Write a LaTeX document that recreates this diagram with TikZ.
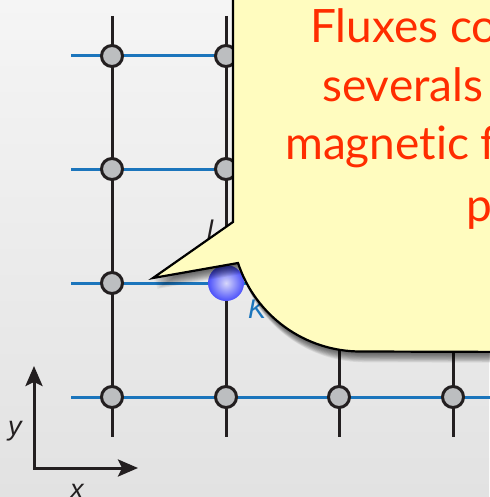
\documentclass[tikz,border=0pt]{standalone}
\usepackage{fontspec}
\setmainfont{Lato}[Ligatures={NoCommon,NoRare}]
\newfontfamily\labfont{Liberation Sans}
\usetikzlibrary{arrows.meta}
\definecolor{bgtop}{RGB}{245,245,245}
\definecolor{bgbot}{RGB}{226,226,226}
\definecolor{latblue}{RGB}{27,117,188}
\definecolor{inkblack}{RGB}{35,31,32}
\definecolor{sitegray}{RGB}{188,190,192}
\definecolor{calloutfill}{RGB}{255,252,191}
\definecolor{fluxred}{RGB}{255,45,0}
\definecolor{ballblue}{RGB}{75,80,250}
\definecolor{ballhi}{RGB}{215,215,250}
\def\calloutpath{(233,-20) -- (233,222) -- (153,278) -- (238,263)
  arc[start angle=161.7, end angle=90, radius=129] -- (530,352) -- (530,-20) -- cycle}
\begin{document}
\begin{tikzpicture}[x=1pt,y=-1pt,
  vbond/.style={line width=3pt, draw=inkblack},
  hbond/.style={line width=3pt, draw=latblue},
  site/.style={circle, draw=inkblack, fill=sitegray, line width=3pt, minimum size=21pt, inner sep=0pt},
  ballsite/.style={circle, inner color=ballhi, outer color=ballblue, minimum size=36pt, inner sep=0pt},
  lab/.style={font=\labfont\itshape\fontsize{27}{27}\selectfont, inner sep=0pt, anchor=base west},
  fluxtext/.style={font=\fontsize{46}{46}\selectfont, text=fluxred, inner sep=0pt, anchor=base west},
  callout/.style={fill=calloutfill, draw=black, line width=2.2pt, line join=miter},
  shadowlayer/.style={fill=black, fill opacity=0.065},
  axis/.style={line width=3pt, draw=inkblack, line join=miter}
]
\useasboundingbox (0,0) rectangle (489,497);
\shade[top color=bgtop, bottom color=bgbot] (0,0) rectangle (489,497);

% grid lines
\foreach \c/\x in {1/112,2/226,3/339,4/453} {
  \coordinate (vt\c) at (\x,16);
  \coordinate (vb\c) at (\x,437);
  \draw[vbond] (vt\c) -- (vb\c);
}
\foreach \r/\y in {1/56,2/169,3/283,4/397} {
  \coordinate (hl\r) at (71,\y);
  \coordinate (hr\r) at (495,\y);
  \draw[hbond] (hl\r) -- (hr\r);
}
% sites
\foreach \c/\x in {1/112,2/226,3/339,4/453} {
  \foreach \r/\y in {1/56,2/169,3/283,4/397} {
    \ifnum\c=2 \ifnum\r=3 \else \node[site] (s\c\r) at (\x,\y) {}; \fi
    \else \node[site] (s\c\r) at (\x,\y) {}; \fi
  }
}
\node[ballsite] (ball) at (226,283) {};

% bond labels
\node[lab, text=inkblack] (lj) at (207,239) {l};
\node[lab, text=latblue] (lk) at (248,318) {K};

% callout shadow
\foreach \s in {1,2,...,12} {
  \path[shadowlayer, shift={(0.35*\s, 0.9*\s)}] \calloutpath;
}
% callout
\path[callout] \calloutpath;
\coordinate (tip) at (153,278);

\node[fluxtext] (t1) at (310,43) {Fluxes co};
\node[fluxtext] (t2) at (322,102) {severals};
\node[fluxtext] (t3) at (285,160) {magnetic f};
\node[fluxtext] (t4) at (466,221) {p};

% axes
\coordinate (o) at (34,468);
\coordinate (ytip) at (34,366);
\coordinate (xtip) at (138,468);
\draw[axis, {Stealth[length=20pt,width=17pt,inset=4pt]}-{Stealth[length=20pt,width=17pt,inset=4pt]}] (ytip) -- (o) -- (xtip);
\node[lab, text=inkblack] (ly) at (8,435) {y};
\node[lab, text=inkblack] (lx) at (70,498) {x};
\end{tikzpicture}
\end{document}
